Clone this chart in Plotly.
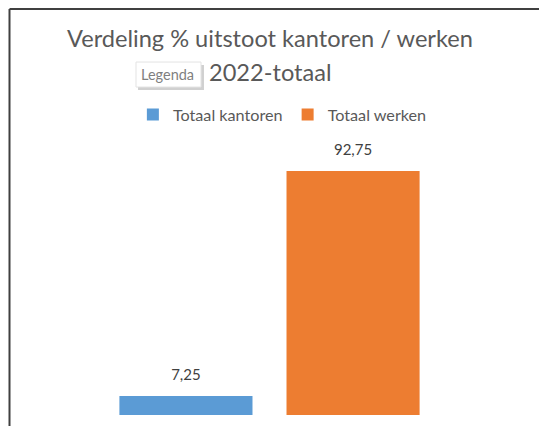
import plotly.graph_objects as go

categories = ["2022-totaal"]
series_names = ["Totaal kantoren", "Totaal werken"]
series_values = [[7.25], [92.75]]
series_colors = ["#5B9BD5", "#ED7D31"]

title_lines = ["Verdeling % uitstoot kantoren / werken", "2022-totaal"]

FONT = "Lato, 'Open Sans', sans-serif"
TXT = "#595959"
GAP = 0.351

fig = go.Figure()
for i, (name, vals, col) in enumerate(zip(series_names, series_values, series_colors)):
    fig.add_trace(go.Bar(
        name=name, x=categories, y=vals, marker_color=col,
        marker_line_width=0, offsetgroup=str(i),
    ))
for i, vals in enumerate(series_values):
    fig.add_trace(go.Scatter(
        x=categories, y=vals, mode="markers+text", offsetgroup=str(i),
        marker=dict(size=18, opacity=0), showlegend=False, hoverinfo="skip",
        texttemplate="%{y:.2f}", textposition="top center",
        textfont=dict(family=FONT, size=15, color="#404040"),
        cliponaxis=False,
    ))

fig.update_layout(
    width=547, height=426,
    margin=dict(l=4, r=28, t=144, b=19),
    paper_bgcolor="white", plot_bgcolor="white",
    separators=", ",
    barmode="group", bargap=GAP, bargroupgap=0.2036,
    scattermode="group", scattergap=GAP,
    legend=dict(orientation="h", x=0.525, xanchor="center", y=1.1407, yanchor="middle",
                font=dict(family=FONT, size=16.2, color=TXT),
                itemwidth=30, traceorder="normal"),
    xaxis=dict(visible=False),
    yaxis=dict(visible=False, range=[0, 100]),
    showlegend=True,
)

# Title lines
for txt, yy in zip(title_lines, [1.4335, 1.304]):
    fig.add_annotation(text=txt, xref="paper", yref="paper", x=0.501, y=yy,
                       xanchor="center", yanchor="middle", showarrow=False,
                       font=dict(family=FONT, size=23.6, color=TXT))

# Frame lines (top and left)
fig.add_shape(type="line", xref="paper", yref="paper", x0=-0.00485, x1=1.1, y0=1.5437, y1=1.5437,
              line=dict(color="#404040", width=2))
fig.add_shape(type="line", xref="paper", yref="paper", x0=-0.00485, x1=-0.00485, y0=1.5437, y1=-0.1,
              line=dict(color="#404040", width=2))

# "Legenda" tooltip with shadow
fig.add_shape(type="rect", xref="paper", yref="paper", x0=0.2447, x1=0.3728, y0=1.2357, y1=1.3308,
              line=dict(width=0), fillcolor="rgba(150,150,150,0.45)")
fig.add_shape(type="rect", xref="paper", yref="paper", x0=0.2408, x1=0.367, y0=1.247, y1=1.342,
              line=dict(color="#E3E3E3", width=1), fillcolor="white")
fig.add_annotation(text="Legenda", xref="paper", yref="paper", x=0.3029, y=1.2928,
                   xanchor="center", yanchor="middle",
                   showarrow=False, font=dict(family=FONT, size=14.5, color="#7F7F7F"))

fig.write_html("out.html")
